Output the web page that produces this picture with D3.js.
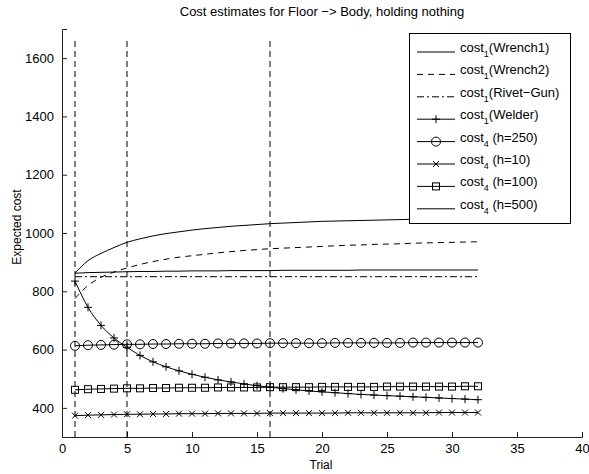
<!DOCTYPE html>
<html lang="en">
<head>
<meta charset="UTF-8">
<title>Cost estimates</title>
<script src="https://d3js.org/d3.v7.min.js"></script>
<style>
  body { margin: 0; background: #fff; }
  text { font-family: "Liberation Sans", Arial, sans-serif; fill: #000; }
</style>
</head>
<body>
<svg width="589" height="474"></svg>
<script>
    let trials = d3.range(1, 33)

    let wrench1 = [862, 905, 930, 950, 968, 980, 990, 998, 1004, 1010, 1015, 1019, 1023, 1026, 1029, 1032,
        1034, 1036, 1038, 1040, 1041, 1042, 1043, 1044, 1045, 1046, 1047, 1048, 1049, 1049, 1050, 1050]
    let wrench2 = [775, 820, 848, 866, 880, 892, 902, 910, 917, 922, 927, 932, 936, 940, 943, 946,
        948, 950, 952, 954, 956, 958, 959, 961, 962, 963, 965, 966, 967, 968, 969, 970]
    let rivetGun = [850, 850, 850, 850, 850, 850, 850, 850, 850, 850, 850, 850, 850, 850, 850, 850,
        850, 850, 850, 850, 850, 850, 850, 850, 850, 850, 850, 850, 850, 850, 850, 850]
    let welder = [835, 745, 683, 640, 608, 580, 558, 541, 527, 515, 505, 496, 489, 482, 476, 471,
        466, 462, 458, 455, 452, 449, 446, 444, 442, 440, 438, 436, 434, 432, 430, 428]
    let h250 = [613, 615, 616, 617, 618, 618, 619, 619, 620, 620, 620, 621, 621, 621, 621, 622,
        622, 622, 622, 622, 623, 623, 623, 623, 623, 623, 624, 624, 624, 624, 624, 624]
    let h10 = [373, 375, 376, 377, 378, 378, 379, 379, 380, 380, 380, 381, 381, 381, 381, 382,
        382, 382, 382, 382, 382, 383, 383, 383, 383, 383, 383, 383, 384, 384, 384, 384]
    let h100 = [462, 464, 465, 466, 467, 467, 468, 468, 469, 469, 469, 470, 470, 470, 470, 471,
        471, 471, 471, 472, 472, 472, 472, 472, 473, 473, 473, 473, 473, 473, 474, 474]
    let h500 = [862, 864, 865, 866, 867, 868, 868, 869, 869, 870, 870, 870, 871, 871, 871, 871,
        872, 872, 872, 872, 872, 872, 873, 873, 873, 873, 873, 873, 873, 873, 873, 873]

    let vlines = [1, 5, 16]
    let xTicks = [0, 5, 10, 15, 20, 25, 30, 35, 40]
    let yTicks = [400, 600, 800, 1000, 1200, 1400, 1600]

    let series = [
        {sub: '1', name: '(Wrench1)', values: wrench1, dash: null, marker: null},
        {sub: '1', name: '(Wrench2)', values: wrench2, dash: '6,5', marker: null},
        {sub: '1', name: '(Rivet\u2212Gun)', values: rivetGun, dash: '7,3,2,3', marker: null},
        {sub: '1', name: '(Welder)', values: welder, dash: null, marker: 'plus'},
        {sub: '4', name: ' (h=250)', values: h250, dash: null, marker: 'circle'},
        {sub: '4', name: ' (h=10)', values: h10, dash: null, marker: 'x'},
        {sub: '4', name: ' (h=100)', values: h100, dash: null, marker: 'square'},
        {sub: '4', name: ' (h=500)', values: h500, dash: null, marker: null}
    ]

    let svg = d3.select('svg')
    let x = d3.scaleLinear().domain([0, 40]).range([62, 582])
    let y = d3.scaleLinear().domain([300, 1700]).range([437, 29])

    // axes, ticks inside like matlab
    let xAxis = svg.append('g').attr('transform', 'translate(0,437)')
        .call(d3.axisBottom(x).tickValues(xTicks).tickSize(-5).tickPadding(9))
    let yAxis = svg.append('g').attr('transform', 'translate(62,0)')
        .call(d3.axisLeft(y).tickValues(yTicks).tickFormat(d3.format('d')).tickSize(-5).tickPadding(8))
    ;[xAxis, yAxis].forEach(a => {
        a.select('.domain').attr('stroke', '#222')
        a.selectAll('.tick line').attr('stroke', '#222')
        a.selectAll('text').style('font-family', '"Liberation Sans", Arial, sans-serif')
            .style('font-size', '13px').attr('fill', '#000')
    })
    xAxis.selectAll('text').attr('dy', '0.55em')

    // vertical dashed markers
    svg.selectAll('line.vl').data(vlines).join('line')
        .attr('class', 'vl')
        .attr('x1', d => x(d)).attr('x2', d => x(d))
        .attr('y1', y(300)).attr('y2', y(1670))
        .attr('stroke', '#000').attr('stroke-dasharray', '6,4').attr('stroke-width', 1)

    let line = d3.line().x((d, i) => x(trials[i])).y(d => y(d)).curve(d3.curveMonotoneX)

    function drawMarker(g, type, cx, cy) {
        if (type === 'plus') {
            g.append('path').attr('d', `M${cx - 4},${cy}H${cx + 4}M${cx},${cy - 4}V${cy + 4}`)
                .attr('stroke', '#000').attr('fill', 'none')
        } else if (type === 'circle') {
            g.append('circle').attr('cx', cx).attr('cy', cy).attr('r', 4.5)
                .attr('stroke', '#000').attr('fill', 'none')
        } else if (type === 'x') {
            g.append('path').attr('d', `M${cx - 3},${cy - 3}L${cx + 3},${cy + 3}M${cx - 3},${cy + 3}L${cx + 3},${cy - 3}`)
                .attr('stroke', '#000').attr('fill', 'none')
        } else if (type === 'square') {
            g.append('rect').attr('x', cx - 3.5).attr('y', cy - 3.5).attr('width', 7).attr('height', 7)
                .attr('stroke', '#000').attr('fill', 'none')
        }
    }

    series.forEach(s => {
        let g = svg.append('g')
        g.append('path').datum(s.values).attr('d', line)
            .attr('fill', 'none').attr('stroke', '#000').attr('stroke-width', 1)
            .attr('stroke-dasharray', s.dash)
        if (s.marker) {
            s.values.forEach((v, i) => drawMarker(g, s.marker, x(trials[i]), y(v)))
        }
    })

    // legend
    let lg = svg.append('g')
    lg.append('rect').attr('x', 409.5).attr('y', 33.5).attr('width', 161).attr('height', 190)
        .attr('fill', '#fff').attr('stroke', '#000')
    series.forEach((s, i) => {
        let ly = 52 + i * 22.4
        lg.append('line').attr('x1', 417).attr('x2', 455).attr('y1', ly).attr('y2', ly)
            .attr('stroke', '#000').attr('stroke-dasharray', s.dash)
        if (s.marker) drawMarker(lg, s.marker, 436, ly)
        let t = lg.append('text').attr('x', 460).attr('y', ly).style('font-size', '13px')
        t.append('tspan').text('cost')
        t.append('tspan').attr('dy', 5).style('font-size', '9px').text(s.sub)
        t.append('tspan').attr('dy', -5).text(s.name)
    })

    // title and labels
    svg.append('text').attr('x', 322).attr('y', 16).attr('text-anchor', 'middle')
        .style('font-size', '13px').text('Cost estimates for Floor \u2212> Body, holding nothing')
    svg.append('text').attr('x', 321).attr('y', 469).attr('text-anchor', 'middle')
        .style('font-size', '12px').text('Trial')
    svg.append('text').attr('transform', 'translate(21,227) rotate(-90)').attr('text-anchor', 'middle')
        .style('font-size', '12px').text('Expected cost')
</script>
</body>
</html>
